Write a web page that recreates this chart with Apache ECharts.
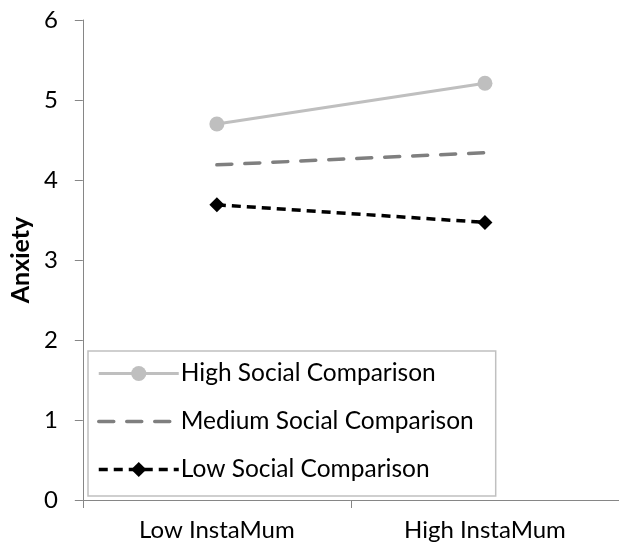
<!DOCTYPE html>
<html><head><meta charset="utf-8">
<script src="https://cdn.jsdelivr.net/npm/echarts@6/dist/echarts.min.js"></script>
<style>html,body{margin:0;padding:0;background:#fff}#c{width:619px;height:549px}</style>
</head><body><div id="c"></div>
<script>
const categories = ["Low InstaMum", "High InstaMum"];
const highSocial = [4.70, 5.21];
const mediumSocial = [4.19, 4.34];
const lowSocial = [3.69, 3.47];
const seriesNames = ["High Social Comparison", "Medium Social Comparison", "Low Social Comparison"];
const yTicks = [0, 1, 2, 3, 4, 5, 6];

const FONT = "Lato";
const FS = 24;
const chart = echarts.init(document.getElementById('c'), null, {renderer: 'canvas'});
chart.setOption({
  animation: false,
  backgroundColor: '#fff',
  grid: {left: 80, right: 0, top: 20, bottom: 49, containLabel: false},
  legend: {
    orient: 'vertical', left: 88, top: 351,
    padding: [10, 22, 14, 9],
    borderColor: '#c0c0c0', borderWidth: 1.5,
    itemWidth: 80, itemHeight: 19, itemGap: 23,
    textStyle: {fontFamily: FONT, fontSize: 24.5, lineHeight: 24, color: '#000', padding: [0,0,0,-3]},
    data: [
      {name: seriesNames[0], lineStyle: {width: 3}},
      {name: seriesNames[1], lineStyle: {width: 3.5}, itemStyle: {opacity: 0}},
      {name: seriesNames[2], lineStyle: {width: 3.5}}
    ]
  },
  xAxis: {
    type: 'category', data: categories, boundaryGap: true,
    axisLine: {lineStyle: {color: '#868686', width: 1}},
    axisTick: {show: true, length: 8, lineStyle: {color: '#868686'}},
    axisLabel: {fontFamily: FONT, fontSize: FS, color: '#000', margin: 18}
  },
  yAxis: {
    type: 'value', min: yTicks[0], max: yTicks[yTicks.length-1], interval: 1,
    name: 'Anxiety', nameLocation: 'middle', nameGap: 48, nameRotate: 90,
    nameTextStyle: {fontFamily: FONT, fontSize: 25, fontWeight: 'bold', color: '#000'},
    axisLine: {show: true, lineStyle: {color: '#868686', width: 1}},
    axisTick: {show: true, length: 8, lineStyle: {color: '#868686'}},
    axisLabel: {fontFamily: FONT, fontSize: FS, color: '#000', margin: 25},
    splitLine: {show: false}
  },
  series: [
    {name: seriesNames[0], type: 'line', data: highSocial, symbol: 'circle', symbolSize: 15,
     itemStyle: {color: '#bfbfbf'}, lineStyle: {color: '#bfbfbf', width: 3}},
    {name: seriesNames[1], type: 'line', data: mediumSocial, symbol: 'none', showSymbol: false,
     itemStyle: {color: '#7f7f7f'}, lineStyle: {color: '#7f7f7f', width: 3.5, type: [15, 13], cap: 'round'}},
    {name: seriesNames[2], type: 'line', data: lowSocial, symbol: 'diamond', symbolSize: 15,
     itemStyle: {color: '#000'}, lineStyle: {color: '#000', width: 3.5, type: [9, 6]}}
  ]
});
</script></body></html>
